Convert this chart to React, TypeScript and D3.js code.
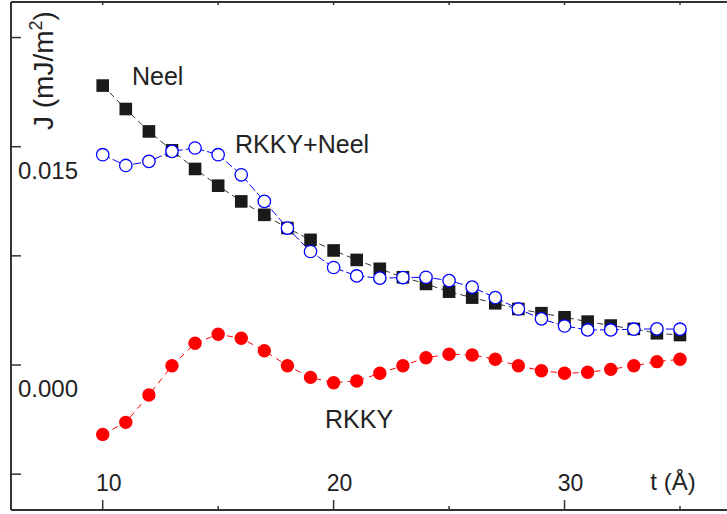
import * as d3 from "d3";

// thickness t (Å)
const thickness = [10, 11, 12, 13, 14, 15, 16, 17, 18, 19, 20, 21, 22, 23, 24, 25, 26, 27, 28, 29, 30, 31, 32, 33, 34, 35];

// J (mJ/m^2) for each curve
const neel = [0.0192, 0.01759, 0.01605, 0.01475, 0.01347, 0.01232, 0.01124, 0.01032, 0.00941, 0.0086, 0.00787, 0.00722, 0.00661, 0.00603, 0.00557, 0.00504, 0.00463, 0.00424, 0.00385, 0.00356, 0.00328, 0.00298, 0.00271, 0.00248, 0.00218, 0.00206];
const rkkyNeel = [0.01445, 0.01371, 0.01399, 0.01468, 0.01491, 0.01445, 0.01307, 0.01124, 0.00941, 0.0078, 0.0067, 0.00612, 0.00597, 0.00601, 0.00603, 0.0058, 0.00535, 0.00463, 0.00385, 0.00317, 0.00268, 0.00241, 0.00241, 0.00246, 0.00248, 0.00246];
const rkky = [-0.00477, -0.00394, -0.00206, -0.00005, 0.00149, 0.00211, 0.00184, 0.00098, -0.00005, -0.00085, -0.00122, -0.0011, -0.00057, -0.00005, 0.0005, 0.00074, 0.00069, 0.00039, -0.00005, -0.00039, -0.00057, -0.0005, -0.0003, -0.00005, 0.00023, 0.00039];

const xMajor = [10, 20, 30];
const xMinor = [15, 25, 35];
const yTicks = [-0.0075, 0, 0.0075, 0.015, 0.0225];
const yLabels = [0, 0.015];

const W = 727;
const H = 514;
const FONT = "'Liberation Sans', Arial, sans-serif";

export default function App() {
  const x = d3.scaleLinear().domain([10, 35]).range([102.7, 680]);
  const y = d3.scaleLinear().domain([0, 0.015]).range([365, 146.7]);

  const axisLeft = 11;
  const axisBottom = 510;
  const axisTop = 2;

  const pts = (vals: number[]) => thickness.map((t, i) => [t, vals[i]] as [number, number]);
  const line = d3.line<[number, number]>().x(d => x(d[0])).y(d => y(d[1]));

  return (
    <svg width={W} height={H} style={{ position: "absolute", left: 0, top: 0, background: "#fff" }}>
      {/* frame */}
      <line x1={axisLeft} x2={W} y1={axisBottom} y2={axisBottom} stroke="#333" strokeWidth={2} />
      <line x1={axisLeft} x2={axisLeft} y1={axisTop} y2={axisBottom} stroke="#333" strokeWidth={2} />
      <line x1={axisLeft} x2={W} y1={axisTop} y2={axisTop} stroke="#333" strokeWidth={2} />

      {/* x ticks */}
      {xMajor.map(t => (
        <g key={"xm" + t}>
          <line x1={x(t)} x2={x(t)} y1={axisBottom} y2={axisBottom - 10} stroke="#333" strokeWidth={1.5} />
          <line x1={x(t)} x2={x(t)} y1={axisTop} y2={axisTop + 3} stroke="#333" strokeWidth={1.5} />
          <text x={x(t) + 6} y={491} textAnchor="middle" fontFamily={FONT} fontSize={23} fill="#222">{t}</text>
        </g>
      ))}
      {xMinor.map(t => (
        <g key={"xn" + t}>
          <line x1={x(t)} x2={x(t)} y1={axisBottom} y2={axisBottom - 4} stroke="#333" strokeWidth={1.5} />
          <line x1={x(t)} x2={x(t)} y1={axisTop} y2={axisTop + 3} stroke="#333" strokeWidth={1.5} />
        </g>
      ))}
      <text x={673} y={490} textAnchor="middle" fontFamily={FONT} fontSize={24} fill="#222">t (Å)</text>

      {/* y ticks */}
      {yTicks.map(v => (
        <line key={"y" + v} x1={axisLeft} x2={axisLeft + 10} y1={y(v)} y2={y(v)} stroke="#333" strokeWidth={1.5} />
      ))}
      {yLabels.map(v => (
        <text key={"yl" + v} x={18} y={y(v) + 32} fontFamily={FONT} fontSize={24} fill="#222">{d3.format(".3f")(v)}</text>
      ))}
      <text transform="translate(53,130) rotate(-90)" fontFamily={FONT} fontSize={28} fill="#222">
        J (mJ/m<tspan dy={-11} fontSize={18}>2</tspan><tspan dy={11}>)</tspan>
      </text>

      {/* RKKY */}
      <path d={line(pts(rkky)) ?? ""} fill="none" stroke="#ff0000" strokeWidth={1} strokeDasharray="6,5" />
      {pts(rkky).map(d => (
        <circle key={"r" + d[0]} cx={x(d[0])} cy={y(d[1])} r={6.7} fill="#ff0000" />
      ))}

      {/* Neel */}
      <path d={line(pts(neel)) ?? ""} fill="none" stroke="#333" strokeWidth={1} strokeDasharray="6,4" />
      {pts(neel).map(d => (
        <rect key={"n" + d[0]} x={x(d[0]) - 6.3} y={y(d[1]) - 6.3} width={12.6} height={12.6} fill="#1a1a1a" />
      ))}

      {/* RKKY + Neel */}
      <path d={line(pts(rkkyNeel)) ?? ""} fill="none" stroke="#0000ff" strokeWidth={1} strokeDasharray="8,3" />
      {pts(rkkyNeel).map(d => (
        <circle key={"b" + d[0]} cx={x(d[0])} cy={y(d[1])} r={6.2} fill="#fff" stroke="#0000ff" strokeWidth={1.3} />
      ))}

      {/* curve labels */}
      <text x={132} y={85} fontFamily={FONT} fontSize={25} fill="#222">Neel</text>
      <text x={235} y={153} fontFamily={FONT} fontSize={25} fill="#222">RKKY+Neel</text>
      <text x={325} y={428} fontFamily={FONT} fontSize={25} fill="#222">RKKY</text>
    </svg>
  );
}
